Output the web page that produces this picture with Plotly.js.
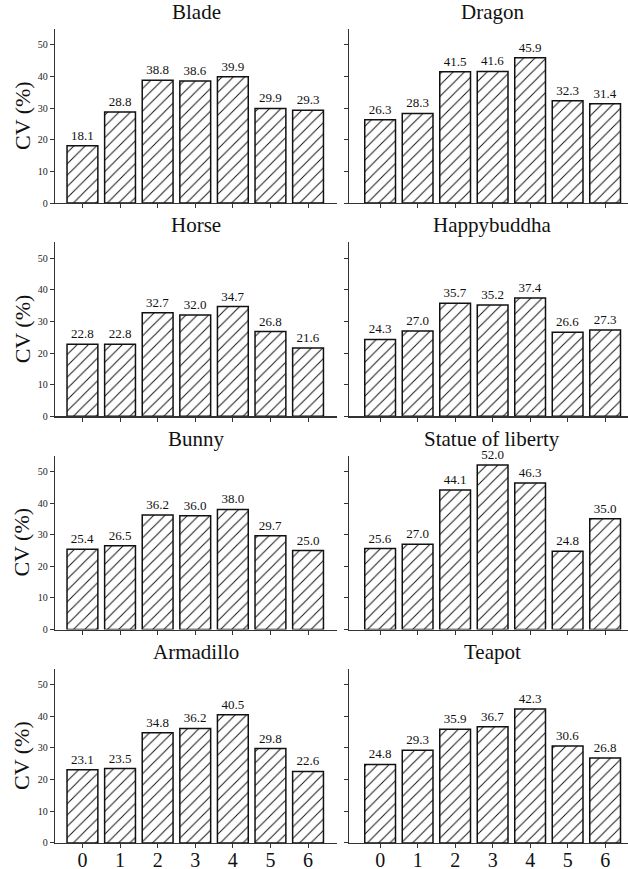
<!DOCTYPE html>
<html><head><meta charset="utf-8">
<script src="https://cdn.plot.ly/plotly-3.0.1.min.js"></script>
<style>html,body{margin:0;padding:0;background:#fff;}#chart{width:628px;height:869px;}</style>
</head><body><div id="chart"></div>
<script>
const categories = ['0','1','2','3','4','5','6'];
const titles = ['Blade','Dragon','Horse','Happybuddha','Bunny','Statue of liberty','Armadillo','Teapot'];
const blade = [18.1, 28.8, 38.8, 38.6, 39.9, 29.9, 29.3];
const dragon = [26.3, 28.3, 41.5, 41.6, 45.9, 32.3, 31.4];
const horse = [22.8, 22.8, 32.7, 32.0, 34.7, 26.8, 21.6];
const happybuddha = [24.3, 27.0, 35.7, 35.2, 37.4, 26.6, 27.3];
const bunny = [25.4, 26.5, 36.2, 36.0, 38.0, 29.7, 25.0];
const statue = [25.6, 27.0, 44.1, 52.0, 46.3, 24.8, 35.0];
const armadillo = [23.1, 23.5, 34.8, 36.2, 40.5, 29.8, 22.6];
const teapot = [24.8, 29.3, 35.9, 36.7, 42.3, 30.6, 26.8];
const series = [blade, dragon, horse, happybuddha, bunny, statue, armadillo, teapot];
const yTitle = 'CV (%)';

const W = 628, H = 869;
const FONT = '"Liberation Serif", "Times New Roman", "DejaVu Serif", serif';
const colX = [[55, 337, -0.73, 6.77], [349, 628, -0.83, 6.61]];
const rowTop0 = 29, rowH = 174, rowStep = 213.3;
const traces = [], annotations = [];
const layout = {
  width: W, height: H, margin: {l:0, r:0, t:0, b:0},
  paper_bgcolor: '#fff', plot_bgcolor: 'rgba(0,0,0,0)',
  showlegend: false, font: {family: FONT, color: '#222'},
  bargap: 0.18
};
series.forEach((vals, i) => {
  const r = Math.floor(i/2), c = i % 2;
  const n = i + 1;
  const xa = 'x' + (n === 1 ? '' : n), ya = 'y' + (n === 1 ? '' : n);
  const top = rowTop0 + r*rowStep, bot = top + rowH;
  const cx = colX[c];
  traces.push({
    type: 'bar', x: categories, y: vals, xaxis: xa, yaxis: ya,
    width: 0.82,
    text: vals.map(v => v.toFixed(1)), textposition: 'outside', cliponaxis: false,
    textfont: {family: FONT, size: 13, color: '#111'},
    marker: {color: '#fff', line: {color: '#111', width: 1.5},
      pattern: {shape: '/', fgcolor: '#111', bgcolor: '#fff', size: 8, solidity: 0.12}},
    hoverinfo: 'skip'
  });
  const xk = 'xaxis' + (n === 1 ? '' : n), yk = 'yaxis' + (n === 1 ? '' : n);
  layout[xk] = {
    domain: [cx[0]/W, cx[1]/W], range: [cx[2], cx[3]], type: 'linear', anchor: ya,
    tickmode: 'array', tickvals: [0,1,2,3,4,5,6], ticktext: categories,
    showticklabels: r === 3, tickfont: {family: FONT, size: 20, color: '#111'},
    ticklabelstandoff: -5,
    ticks: 'outside', ticklen: 4, tickwidth: 1, tickcolor: '#333',
    showline: true, linecolor: '#333', linewidth: 1.2, showgrid: false, zeroline: false,
    fixedrange: true
  };
  layout[yk] = {
    domain: [1 - bot/H, 1 - top/H], range: [0, 55], anchor: xa,
    tickvals: [0,10,20,30,40,50], showticklabels: c === 0,
    tickfont: {family: FONT, size: 10, color: '#222'},
    ticks: 'outside', ticklen: 4, tickwidth: 1, tickcolor: '#333',
    showline: true, linecolor: '#333', linewidth: 1.2, showgrid: false, zeroline: false,
    fixedrange: true
  };
  const titleX = c === 0 ? 196 : 492;
  annotations.push({
    text: titles[i], xref: 'paper', yref: 'paper', x: titleX/W, y: 1 - (top - 3)/H,
    xanchor: 'center', yanchor: 'bottom', showarrow: false,
    font: {family: FONT, size: 21, color: '#111'}
  });
  if (c === 0) {
    annotations.push({
      text: yTitle, xref: 'paper', yref: 'paper', x: 22/W, y: 1 - (top + bot)/2/H,
      xanchor: 'center', yanchor: 'middle', textangle: -90, showarrow: false,
      font: {family: FONT, size: 22, color: '#111'}
    });
  }
});
layout.annotations = annotations;
Plotly.newPlot('chart', traces, layout, {staticPlot: true});
</script></body></html>
